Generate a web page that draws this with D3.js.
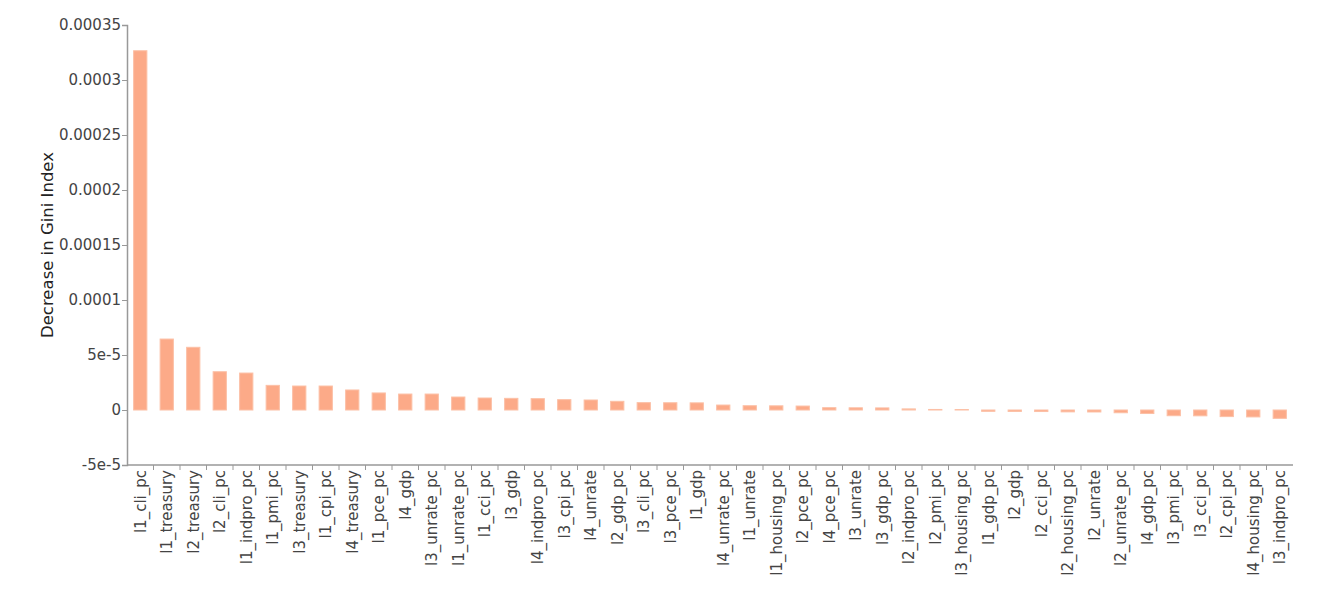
<!DOCTYPE html>
<html>
<head>
<meta charset="utf-8">
<script src="https://cdn.jsdelivr.net/npm/d3@7/dist/d3.min.js"></script>
<style>
  body { margin: 0; background: #fff; }
  .tick-label { font-family: "DejaVu Sans", Verdana, sans-serif; font-size: 15px; fill: #444; }
  .axis-title { font-family: "DejaVu Sans", Verdana, sans-serif; font-size: 16.5px; fill: #222; }
</style>
</head>
<body>
<div id="chart"></div>
<script>
// feature names, sorted by importance
var features = [
  'l1_cli_pc', 'l1_treasury', 'l2_treasury', 'l2_cli_pc', 'l1_indpro_pc', 'l1_pmi_pc',
  'l3_treasury', 'l1_cpi_pc', 'l4_treasury', 'l1_pce_pc', 'l4_gdp', 'l3_unrate_pc',
  'l1_unrate_pc', 'l1_cci_pc', 'l3_gdp', 'l4_indpro_pc', 'l3_cpi_pc', 'l4_unrate',
  'l2_gdp_pc', 'l3_cli_pc', 'l3_pce_pc', 'l1_gdp', 'l4_unrate_pc', 'l1_unrate',
  'l1_housing_pc', 'l2_pce_pc', 'l4_pce_pc', 'l3_unrate', 'l3_gdp_pc', 'l2_indpro_pc',
  'l2_pmi_pc', 'l3_housing_pc', 'l1_gdp_pc', 'l2_gdp', 'l2_cci_pc', 'l2_housing_pc',
  'l2_unrate', 'l2_unrate_pc', 'l4_gdp_pc', 'l3_pmi_pc', 'l3_cci_pc', 'l2_cpi_pc',
  'l4_housing_pc', 'l3_indpro_pc'
];

// mean decrease in gini index
var giniDecrease = [
  3.266e-4, 6.45e-5, 5.7e-5, 3.48e-5, 3.36e-5, 2.24e-5,
  2.18e-5, 2.18e-5, 1.82e-5, 1.55e-5, 1.45e-5, 1.45e-5,
  1.18e-5, 1.09e-5, 1.06e-5, 1.03e-5, 9.4e-6, 9.1e-6,
  7.9e-6, 6.7e-6, 6.6e-6, 6.5e-6, 4.5e-6, 3.9e-6,
  3.8e-6, 3.6e-6, 2.1e-6, 2.0e-6, 1.9e-6, 1.0e-6,
  5e-7, 4e-7, -1.2e-6, -1.3e-6, -1.4e-6, -1.7e-6,
  -1.8e-6, -2.5e-6, -3.2e-6, -5.2e-6, -5.3e-6, -6.0e-6,
  -6.3e-6, -7.6e-6
];

var yTicks = [-5e-5, 0, 5e-5, 1e-4, 1.5e-4, 2e-4, 2.5e-4, 3e-4, 3.5e-4];
var yTickLabels = ['-5e-5', '0', '5e-5', '0.0001', '0.00015', '0.0002', '0.00025', '0.0003', '0.00035'];

var W = 1327, H = 589;
var margins = { top: 25, right: 34, bottom: 124, left: 127 };

var svg = d3.select('#chart').append('svg')
    .attr('width', W)
    .attr('height', H);

var x = d3.scaleBand()
    .domain(features)
    .range([margins.left, W - margins.right])
    .paddingInner(0.5)
    .paddingOuter(0.25);

var y = d3.scaleLinear()
    .domain([yTicks[0], yTicks[yTicks.length - 1]])
    .range([H - margins.bottom, margins.top]);

var data = features.map(function(f, i) { return { name: f, value: giniDecrease[i] }; });

// bars
svg.append('g').selectAll('rect')
    .data(data)
    .enter().append('rect')
    .attr('x', function(d) { return x(d.name); })
    .attr('width', x.bandwidth())
    .attr('y', function(d) { return Math.min(y(d.value), y(0)); })
    .attr('height', function(d) { return Math.abs(y(d.value) - y(0)); })
    .style('fill', '#fcaa88')
    .style('stroke', '#fcc0a6')
    .style('stroke-width', '1px');

// y axis
var yAxis = d3.axisLeft(y)
    .tickValues(yTicks)
    .tickFormat(function(d, i) { return yTickLabels[i]; })
    .tickSizeOuter(0)
    .tickSize(5)
    .tickPadding(1);

var gy = svg.append('g')
    .attr('transform', 'translate(' + margins.left + ',0)')
    .call(yAxis);
gy.select('.domain').attr('stroke', '#999').attr('stroke-width', 1.5);
gy.selectAll('.tick line').attr('stroke', '#999');
gy.selectAll('.tick text').attr('class', 'tick-label').attr('font-family', null).attr('font-size', null);

// x axis: ticks between the bands
var gx = svg.append('g')
    .attr('transform', 'translate(0,' + y(yTicks[0]) + ')');

gx.append('line')
    .attr('x1', x.range()[0])
    .attr('x2', x.range()[1])
    .attr('stroke', '#999')
    .attr('stroke-width', 1.5);

var step = x.step();
gx.selectAll('line.sep')
    .data(features.slice(1))
    .enter().append('line')
    .attr('class', 'sep')
    .attr('x1', function(d) { return x(d) - step * 0.25; })
    .attr('x2', function(d) { return x(d) - step * 0.25; })
    .attr('y1', 0)
    .attr('y2', 5)
    .attr('stroke', '#999');

gx.selectAll('text')
    .data(features)
    .enter().append('text')
    .attr('class', 'tick-label')
    .attr('text-anchor', 'end')
    .attr('dy', '0.35em')
    .attr('transform', function(d) {
        return 'translate(' + (x(d) + x.bandwidth() / 2) + ',5) rotate(-90)';
    })
    .text(function(d) { return d; });

// axis title
svg.append('text')
    .attr('class', 'axis-title')
    .attr('text-anchor', 'middle')
    .attr('transform', 'translate(53,' + ((margins.top + y(yTicks[0])) / 2) + ') rotate(-90)')
    .text('Decrease in Gini Index');
</script>
</body>
</html>
